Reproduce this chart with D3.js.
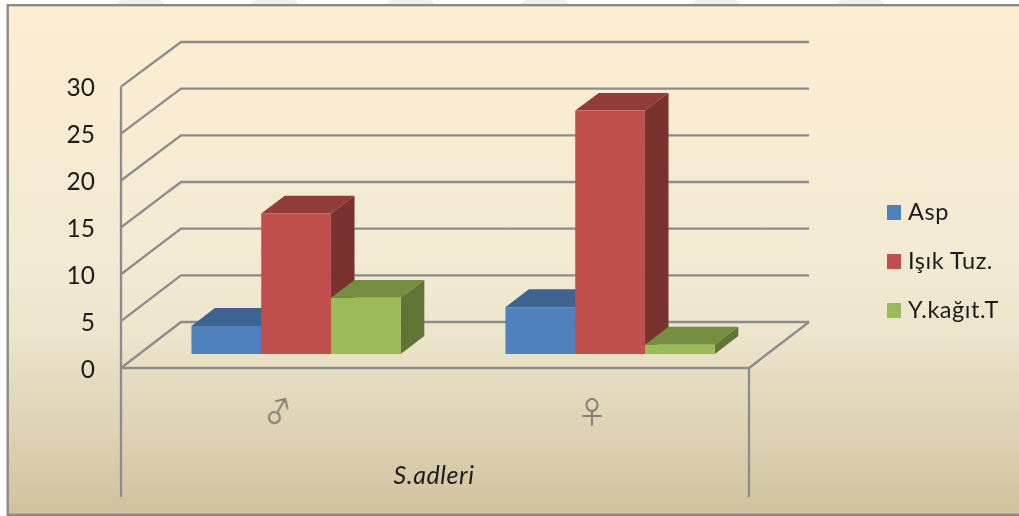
<!DOCTYPE html>
<html>
<head>
<meta charset="utf-8">
<script src="https://cdn.jsdelivr.net/npm/d3@7"></script>
<style>
html,body{margin:0;padding:0;background:#fff;overflow:hidden}
svg{display:block}
text{font-family:Lato,"Open Sans",sans-serif;fill:#1c1c1c}
</style>
</head>
<body>
<svg id="chart" width="1019" height="516"></svg>
<script>
const categories = ["♂", "♀"];
const seriesNames = ["Asp", "Işık Tuz.", "Y.kağıt.T"];
const aspValues = [3, 5];
const isikValues = [15, 26];
const ykagitValues = [6, 1];
const yTicks = [0, 5, 10, 15, 20, 25, 30];
const axisTitle = "S.adleri";
const faceColors = ["#4f81bd", "#c0504d", "#9bbb59"];
const topColors = ["#3d6390", "#933d3a", "#768e43"];
const sideColors = ["#2f4d70", "#7a302e", "#607535"];
const stripeStarts = [115, 249, 385, 519, 690, 835];

const seriesValues = [aspValues, isikValues, ykagitValues];
const svg = d3.select("#chart");
const W = 1019, H = 516;

const defs = svg.append("defs");
const grad = defs.append("linearGradient").attr("id", "bg").attr("x1", 0).attr("y1", 0).attr("x2", 0).attr("y2", 1);
[[0, "#feeed2"], [0.5, "#f2ead3"], [0.65, "#ece4cb"], [1, "#d0c29e"]].forEach(s =>
  grad.append("stop").attr("offset", s[0]).attr("stop-color", s[1]));
const soft = defs.append("filter").attr("id", "soft").attr("x", "-5%").attr("y", "-5%").attr("width", "110%").attr("height", "110%");
soft.append("feGaussianBlur").attr("stdDeviation", 0.6);

// faint stripes above the frame
svg.append("g").selectAll("path").data(stripeStarts).join("path")
  .attr("d", d => d3.line()([[d, 5], [d + 6, 0], [d + 46, 0], [d + 51, 5]]) + "Z")
  .attr("fill", "#efefef");

// frame
svg.append("rect").attr("x", 7.7).attr("y", 5.2).attr("width", W + 10).attr("height", 509.6)
  .attr("fill", "url(#bg)").attr("stroke", "#8a8a8a").attr("stroke-width", 2.4);

// scales: front edge of the left wall and back edge of the same wall
const frontLeft = 121, frontRight = 749, depthX = 60;
const y = d3.scaleLinear().domain([0, 30]).range([368, 86.7]);
const yBack = d3.scaleLinear().domain([0, 30]).range([322, 42]);
const x0 = d3.scaleBand().domain(categories).range([frontLeft, frontRight]);
const x1 = d3.scaleBand().domain(seriesNames).range([52.2, 261.6]);
const yAt = (v, t) => y(v) + (yBack(v) - y(v)) * t;
const barFront = 0.304;   // share of the floor depth
const barBack = 0.695;

const chart = svg.append("g").attr("filter", "url(#soft)");

// walls and gridlines
const grid = chart.append("g").attr("fill", "none").attr("stroke", "#8c8c8c").attr("stroke-width", 2.3);
grid.selectAll("path.g").data(yTicks).join("path").attr("class", "g")
  .attr("d", d => d3.line()([
    [frontLeft, y(d)],
    [frontLeft + depthX, yBack(d)],
    [frontRight + depthX, yBack(d)]
  ]));
grid.append("path").attr("d", d3.line()([[frontLeft, y(30)], [frontLeft, 497]]));
grid.append("path").attr("d", d3.line()([[frontLeft, y(0)], [frontRight, y(0)], [frontRight + depthX, yBack(0)]]));
grid.append("path").attr("d", d3.line()([[frontRight, y(0)], [frontRight, 497]]));

// bars
const bars = chart.append("g");
categories.forEach(cat => {
  const ci = categories.indexOf(cat);
  seriesNames.forEach((name, si) => {
    const v = seriesValues[si][ci];
    const xa = x0(cat) + x1(name) + depthX * barFront, xb = xa + x1.bandwidth();
    const dx = depthX * (barBack - barFront);
    const yt = yAt(v, barFront), yb = yAt(0, barFront);
    const ytb = yAt(v, barBack), ybb = yAt(0, barBack);
    const g = bars.append("g");
    g.append("path").attr("fill", topColors[si])
      .attr("d", d3.line()([[xa, yt], [xa + dx, ytb], [xb + dx, ytb], [xb, yt]]) + "Z");
    g.append("path").attr("fill", sideColors[si])
      .attr("d", d3.line()([[xb, yt], [xb + dx, ytb], [xb + dx, ybb], [xb, yb]]) + "Z");
    g.append("rect").attr("x", xa).attr("y", yt).attr("width", xb - xa).attr("height", yb - yt)
      .attr("fill", faceColors[si]);
  });
});

// y axis labels
svg.append("g").selectAll("text").data(yTicks).join("text")
  .attr("x", 95).attr("y", d => y(d) + 9.5)
  .attr("text-anchor", "end").attr("font-size", 24.5)
  .attr("filter", "url(#soft)")
  .text(d => d);

// category labels (the male glyph is turned a little to match the steeper arrow)
svg.append("g").selectAll("text").data(categories).join("text")
  .attr("transform", (d, i) => {
    const cx = x0(d) + x0.bandwidth() / 2;
    return `translate(${cx},${i === 0 ? 411 : 412}) rotate(${i === 0 ? -14 : 0})`;
  })
  .attr("dy", "0.35em")
  .attr("text-anchor", "middle").attr("font-size", 30)
  .attr("filter", "url(#soft)")
  .style("font-family", '"Noto Sans CJK JP","DejaVu Sans",sans-serif')
  .style("fill", "#858378")
  .text(d => d);

// axis title
svg.append("text").attr("x", 434).attr("y", 484)
  .attr("text-anchor", "middle").attr("font-size", 25).attr("font-style", "italic")
  .attr("letter-spacing", 0.6)
  .attr("filter", "url(#soft)")
  .text(axisTitle);

// legend
const legendY = d3.scalePoint().domain(seriesNames).range([212, 310]);
const legend = svg.append("g").attr("filter", "url(#soft)");
legend.selectAll("rect").data(seriesNames).join("rect")
  .attr("x", 887).attr("y", d => legendY(d) - 7).attr("width", 14).attr("height", 15)
  .attr("fill", (d, i) => faceColors[i]);
legend.selectAll("text").data(seriesNames).join("text")
  .attr("x", 908).attr("y", d => legendY(d) + 8)
  .attr("font-size", 23.5).attr("letter-spacing", 0.55)
  .text(d => d);
</script>
</body>
</html>
